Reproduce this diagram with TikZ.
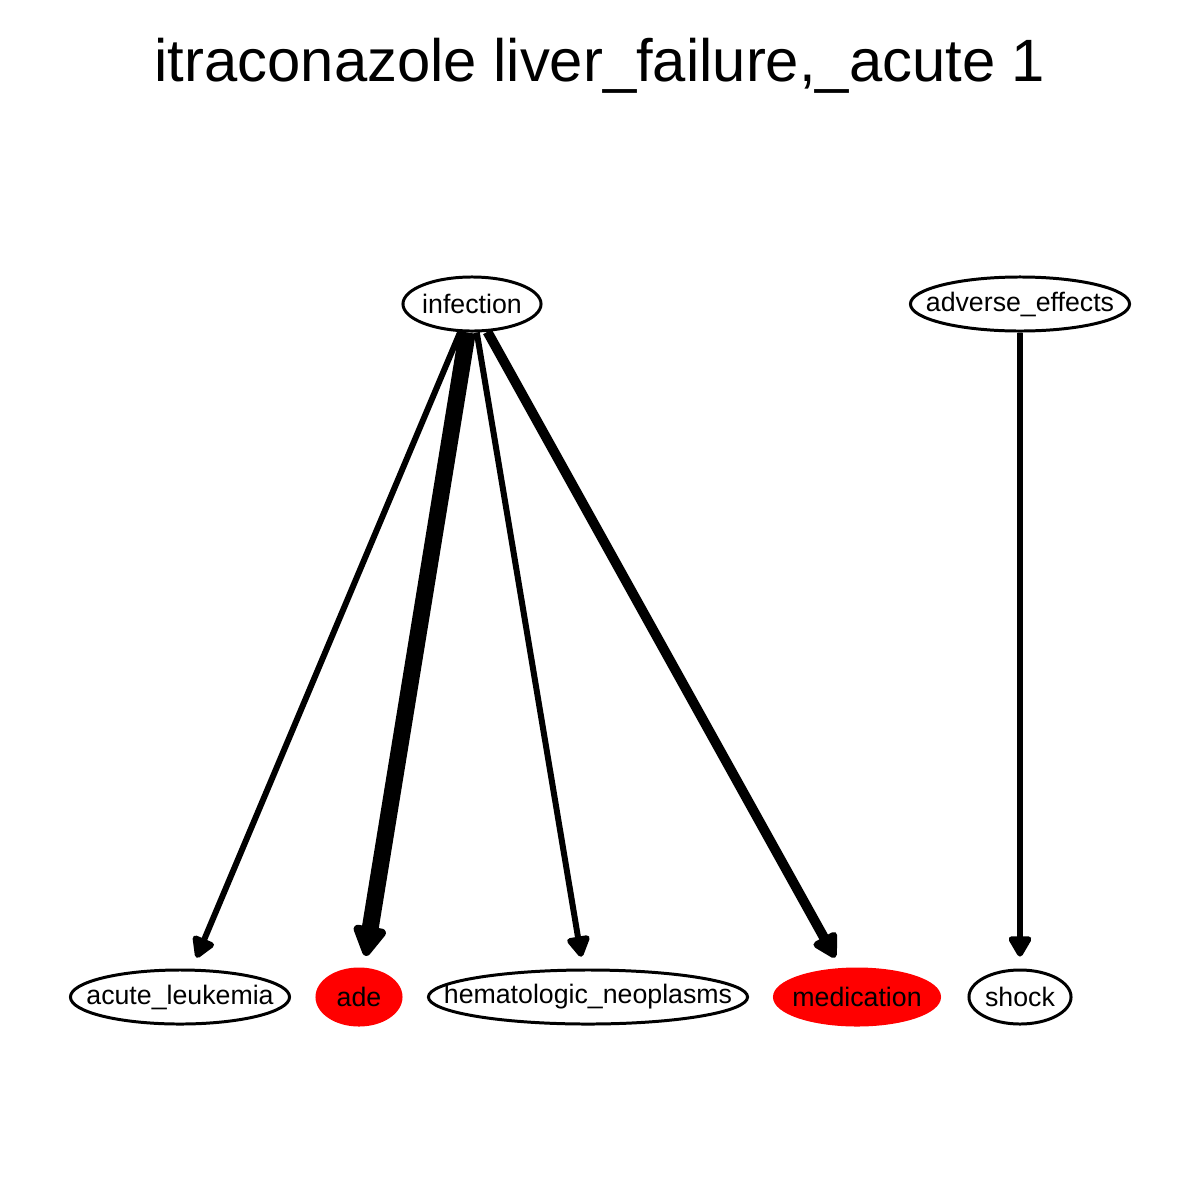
\documentclass[tikz,border=0pt]{standalone}
\usepackage{fontspec}
\setmainfont{Liberation Sans}
\usetikzlibrary{arrows.meta,shapes.geometric}

\tikzset{
  nd/.style={ellipse, draw, line width=0.85pt, inner sep=0pt, minimum height=0.54cm,
    font=\fontsize{7.6}{9}\selectfont},
  hit/.style={nd, draw=red, fill=red},
  edge/.style={line width=1.7pt, line join=round, shorten >=3.4pt,
    -{Triangle[length=5pt 1, width=5.5pt 1, round]}}
}
\newcommand{\lbl}[1]{\makebox[0pt]{#1}}

\begin{document}
\begin{tikzpicture}[x=0.01cm, y=-0.01cm]
    \useasboundingbox (0,0) rectangle (1200,1200);

    %
    \node[font=\fontsize{17}{20}\selectfont] (title) at (600,66) {itraconazole liver\_failure,\_acute 1};

    %
    \node[nd, minimum width=1.38cm] (inf) at (472,304) {\lbl{infection}};
    \node[nd, minimum width=2.19cm] (adv) at (1020,304) {\lbl{adverse\_effects}};

    %
    \node[nd, minimum width=2.19cm] (leuk) at (180,997) {\lbl{acute\_leukemia}};
    \node[hit, minimum width=0.84cm, minimum height=0.56cm] (ade) at (359,997) {\lbl{ade}};
    \node[nd, minimum width=3.19cm] (hem) at (588,997) {\lbl{hematologic\_neoplasms}};
    \node[hit, minimum width=1.65cm, minimum height=0.56cm] (med) at (857,997) {\lbl{medication}};
    \node[nd, minimum width=1.02cm] (shock) at (1020,997) {\lbl{shock}};

    %
    \draw[edge] (inf) -- (leuk);
    \draw[edge, line width=4.8pt] (inf) -- (ade);
    \draw[edge] (inf) -- (hem);
    \draw[edge, line width=2.8pt] (inf) -- (med);
    \draw[edge] (adv) -- (shock);

\end{tikzpicture}
\end{document}
